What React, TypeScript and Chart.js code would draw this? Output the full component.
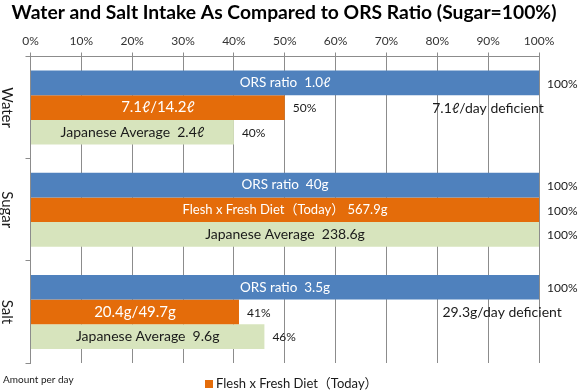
import React, { useEffect, useRef } from 'react';
import { Chart, registerables } from 'chart.js';

Chart.register(...registerables);

// ---------- data ----------
const categories = ['Water', 'Sugar', 'Salt'];
const orsValues = [100, 100, 100];
const dietValues = [50, 100, 41];
const japanValues = [40, 100, 46];
const orsLabels = ['ORS ratio  1.0ℓ', 'ORS ratio  40g', 'ORS ratio  3.5g'];
const dietLabels = ['7.1ℓ/14.2ℓ', 'Flesh x Fresh Diet（Today） 567.9g', '20.4g/49.7g'];
const japanLabels = ['Japanese Average  2.4ℓ', 'Japanese Average  238.6g', 'Japanese Average  9.6g'];
const xTicks = [0, 10, 20, 30, 40, 50, 60, 70, 80, 90, 100];
const deficitCategories = ['Water', 'Salt'];
const deficitTexts = ['7.1ℓ/day deficient', '29.3g/day deficient'];
const deficitStart = [79, 81];
const titleText = 'Water and Salt Intake As Compared to ORS Ratio (Sugar=100%)';
const legendText = 'Flesh x Fresh Diet（Today）';
const footnoteText = 'Amount per day';

// ---------- styles ----------
const FONT = "Lato, 'Noto Sans CJK JP', 'DejaVu Sans', sans-serif";
const BLUE = '#4F81BD';
const ORANGE = '#E46C0A';
const GREEN = '#D7E4BD';
const GRID = '#8C8C8C';
const DARK = '#1A1A1A';

function insideFontSize(di: number, v: number) {
  if (di === 0) return 13.5;
  if (di === 2) return 14;
  return v < 100 ? 15 : 13;
}

const labelPlugin = {
  id: 'customText',
  afterDatasetsDraw(chart: any) {
    const ctx = chart.ctx as CanvasRenderingContext2D;
    const insideTexts = [orsLabels, dietLabels, japanLabels];
    ctx.save();
    chart.data.datasets.forEach((ds: any, di: number) => {
      const meta = chart.getDatasetMeta(di);
      meta.data.forEach((bar: any, j: number) => {
        const v = ds.data[j];
        const cx = (bar.x + bar.base) / 2;
        ctx.font = `${insideFontSize(di, v)}px ${FONT}`;
        ctx.fillStyle = di === 2 ? DARK : '#FFFFFF';
        ctx.textAlign = 'center';
        ctx.textBaseline = 'middle';
        ctx.fillText(insideTexts[di][j], cx, bar.y);
        ctx.font = `12px ${FONT}`;
        ctx.fillStyle = DARK;
        ctx.textAlign = 'left';
        ctx.fillText(`${v}%`, bar.x + 8, bar.y + 1);
      });
    });
    // deficiency notes, on the diet row of their category
    const xs = chart.scales.x;
    const dietMeta = chart.getDatasetMeta(1);
    deficitCategories.forEach((cat, k) => {
      const idx = categories.indexOf(cat);
      const bar: any = dietMeta.data[idx];
      ctx.font = `14px ${FONT}`;
      ctx.fillStyle = DARK;
      ctx.textAlign = 'left';
      ctx.textBaseline = 'middle';
      ctx.fillText(deficitTexts[k], xs.getPixelForValue(deficitStart[k]), bar.y + 1);
    });
    ctx.restore();
  },
  afterDraw(chart: any) {
    const ctx = chart.ctx as CanvasRenderingContext2D;
    const ys = chart.scales.y;
    ctx.save();
    // title
    ctx.font = `bold 19.3px ${FONT}`;
    ctx.fillStyle = '#000';
    ctx.textAlign = 'center';
    ctx.textBaseline = 'middle';
    ctx.fillText(titleText, 284, 13);
    // category labels, rotated
    ctx.font = `15px ${FONT}`;
    ctx.fillStyle = DARK;
    categories.forEach((c, i) => {
      const y = ys.getPixelForValue(i);
      ctx.save();
      ctx.translate(7, y);
      ctx.rotate(Math.PI / 2);
      ctx.textAlign = 'center';
      ctx.textBaseline = 'middle';
      ctx.fillText(c, 0, 0);
      ctx.restore();
    });
    // footnote
    ctx.font = `10px ${FONT}`;
    ctx.textAlign = 'left';
    ctx.textBaseline = 'middle';
    ctx.fillText(footnoteText, 3, 380);
    // legend (only the diet series)
    ctx.fillStyle = ORANGE;
    ctx.fillRect(205, 380, 8, 8);
    ctx.fillStyle = DARK;
    ctx.font = `13px ${FONT}`;
    ctx.fillText(legendText, 216, 384);
    ctx.restore();
  },
};

export default function App() {
  const ref = useRef<HTMLCanvasElement>(null);
  useEffect(() => {
    const canvas = ref.current!;
    const chart = new Chart(canvas, {
      type: 'bar',
      data: {
        labels: categories,
        datasets: [
          { label: 'ORS ratio', data: orsValues, backgroundColor: BLUE },
          { label: legendText, data: dietValues, backgroundColor: ORANGE },
          { label: 'Japanese Average', data: japanValues, backgroundColor: GREEN },
        ],
      },
      options: {
        indexAxis: 'y',
        responsive: false,
        animation: false,
        devicePixelRatio: 1,
        layout: { padding: { top: 28, bottom: 28, left: 0, right: 41 } },
        datasets: { bar: { barPercentage: 1, categoryPercentage: 0.725 } },
        plugins: {
          legend: { display: false },
          title: { display: false },
          tooltip: { enabled: false },
        },
        scales: {
          x: {
            position: 'top',
            min: 0,
            max: 100,
            afterBuildTicks: (s: any) => {
              s.ticks = xTicks.map((v) => ({ value: v }));
            },
            ticks: {
              callback: (v: any) => `${v}%`,
              font: { family: FONT, size: 12 },
              color: '#333',
              padding: 4,
              maxRotation: 0,
              autoSkip: false,
            },
            grid: { color: GRID, tickLength: 4, lineWidth: 1 },
            border: { color: GRID },
            afterFit: (s: any) => {
              s.height = 28.5;
            },
          },
          y: {
            ticks: { display: false },
            grid: { drawOnChartArea: false, tickLength: 5, color: GRID },
            border: { color: GRID },
            afterFit: (s: any) => {
              s.width = 30.5;
            },
          },
        },
      } as any,
      plugins: [labelPlugin],
    });
    return () => chart.destroy();
  }, []);
  return (
    <div style={{ position: 'fixed', left: 0, top: 0, width: 580, height: 391, background: '#fff' }}>
      <canvas ref={ref} width={580} height={391} style={{ display: 'block' }} />
    </div>
  );
}
